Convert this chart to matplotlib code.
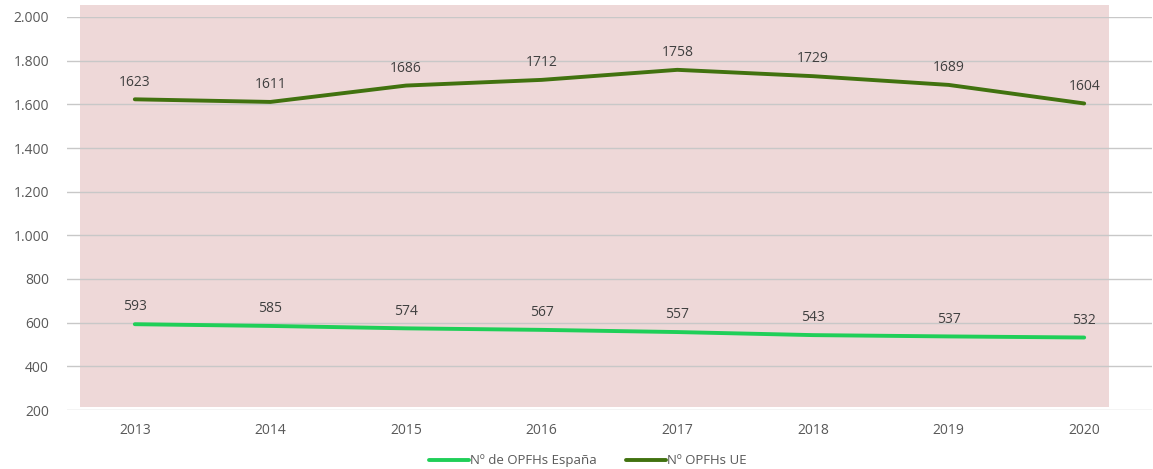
import matplotlib
matplotlib.use("Agg")
import matplotlib.pyplot as plt
from matplotlib.patches import Rectangle
from matplotlib.ticker import FuncFormatter

years = [2013, 2014, 2015, 2016, 2017, 2018, 2019, 2020]
espana = [593, 585, 574, 567, 557, 543, 537, 532]
ue = [1623, 1611, 1686, 1712, 1758, 1729, 1689, 1604]
yticks = [200, 400, 600, 800, 1000, 1200, 1400, 1600, 1800, 2000]

plt.rcParams["font.family"] = ["Open Sans", "DejaVu Sans"]

fig = plt.figure(figsize=(11.53, 4.69), dpi=100)
ax = fig.add_axes([67 / 1153, 59 / 469, 1085 / 1153, 393 / 469])

x = list(range(len(years)))
ax.set_xlim(-0.5, len(years) - 0.5)
ax.set_ylim(200, 2000)

# pink plot area (extends slightly above the top gridline)
ax.add_patch(Rectangle((-0.406, 214), 7.184 + 0.406, 2055 - 214,
                       facecolor="#eed8d8", edgecolor="none", zorder=0, clip_on=False))

for y in yticks:
    ax.axhline(y, color="#c8c8c8", lw=1.0, zorder=1)

ax.plot(x, espana, color="#1fcf58", lw=2.8, solid_capstyle="round", zorder=3,
        label="Nº de OPFHs España")
ax.plot(x, ue, color="#41720f", lw=2.8, solid_capstyle="round", zorder=3,
        label="Nº OPFHs UE")

for series in (espana, ue):
    for xi, v in zip(x, series):
        ax.annotate(str(v), (xi, v), xytext=(0, 7), textcoords="offset points",
                    ha="center", va="bottom", fontsize=10, color="#404040")

ax.set_xticks(x)
ax.set_xticklabels([str(y) for y in years])
ax.set_yticks(yticks)
ax.yaxis.set_major_formatter(FuncFormatter(lambda v, p: f"{int(v):,}".replace(",", ".")))
ax.tick_params(axis="both", length=0, labelsize=10, colors="#595959")
ax.tick_params(axis="x", pad=9)
ax.tick_params(axis="y", pad=13)
for s in ax.spines.values():
    s.set_visible(False)
ax.set_facecolor("none")

fig.legend(loc="lower center", bbox_to_anchor=(0.51, -0.022), ncol=2, frameon=False,
           fontsize=9.5, handlelength=3, columnspacing=2.2, handletextpad=0.1,
           labelcolor="#595959")

fig.savefig("out.png", dpi=100)
